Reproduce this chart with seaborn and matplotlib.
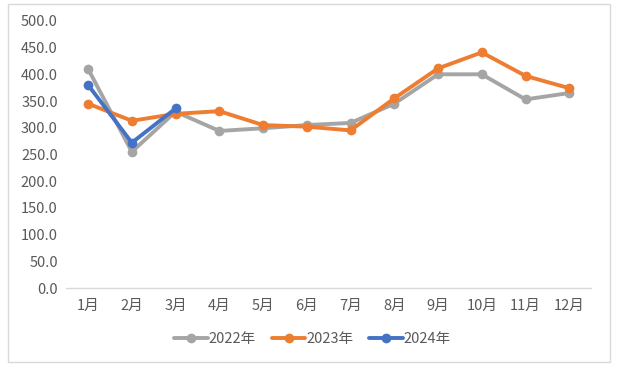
import matplotlib
matplotlib.use("Agg")
import matplotlib.pyplot as plt
import seaborn as sns
import pandas as pd
from matplotlib.patches import Rectangle

months = ["1月", "2月", "3月", "4月", "5月", "6月", "7月", "8月", "9月", "10月", "11月", "12月"]
v2022 = [410, 255, 330, 294, 299, 305, 309, 345, 400, 400, 353, 365]
v2023 = [345, 313, 326, 331, 305, 302, 295, 355, 411, 441, 397, 374]
v2024 = [380, 272, 336]
series = ["2022年", "2023年", "2024年"]
colors = ["#A5A5A5", "#ED7D31", "#4472C4"]
yticks = [0, 50, 100, 150, 200, 250, 300, 350, 400, 450, 500]

rows = []
for name, vals in zip(series, [v2022, v2023, v2024]):
    for m, v in zip(months, vals):
        rows.append({"month": m, "value": v, "series": name})
df = pd.DataFrame(rows)

sns.set_theme(style="white")
plt.rcParams["font.family"] = ["Noto Sans CJK JP", "DejaVu Sans"]

fig = plt.figure(figsize=(6.19, 3.66), dpi=100)
ax = fig.add_axes([0.107, 0.213, 0.848, 0.73])

# establish category order
ax.plot(months, [0] * len(months), alpha=0)

sns.lineplot(data=df, x="month", y="value", hue="series", hue_order=series,
             palette=colors, marker="o", markersize=7, markeredgewidth=0,
             linewidth=2.8, sort=False, ax=ax, legend=True)

ax.set_ylim(0, 500)
ax.set_xlim(-0.5, 11.5)
ax.set_yticks(yticks)
ax.set_yticklabels([f"{t:.1f}" for t in yticks])
ax.set_xlabel("")
ax.set_ylabel("")
for s in ["top", "right", "left"]:
    ax.spines[s].set_visible(False)
ax.spines["bottom"].set_color("#D9D9D9")
ax.spines["bottom"].set_linewidth(1)
ax.tick_params(axis="both", length=0, colors="#595959", labelsize=10.5)
ax.tick_params(axis="x", pad=8)
ax.tick_params(axis="y", pad=6)

handles, labels = ax.get_legend_handles_labels()
ax.legend_.remove()
fig.legend(handles, labels, loc="center", bbox_to_anchor=(0.505, 0.074), ncol=3,
           frameon=False, fontsize=10.5, labelcolor="#595959", handlelength=2.3,
           handletextpad=0.05, columnspacing=1.1)

fig.patches.append(Rectangle((0.013, 0.01), 0.973, 0.98, transform=fig.transFigure,
                             fill=False, edgecolor="#D9D9D9", linewidth=1))

fig.savefig("out.png", dpi=100)
